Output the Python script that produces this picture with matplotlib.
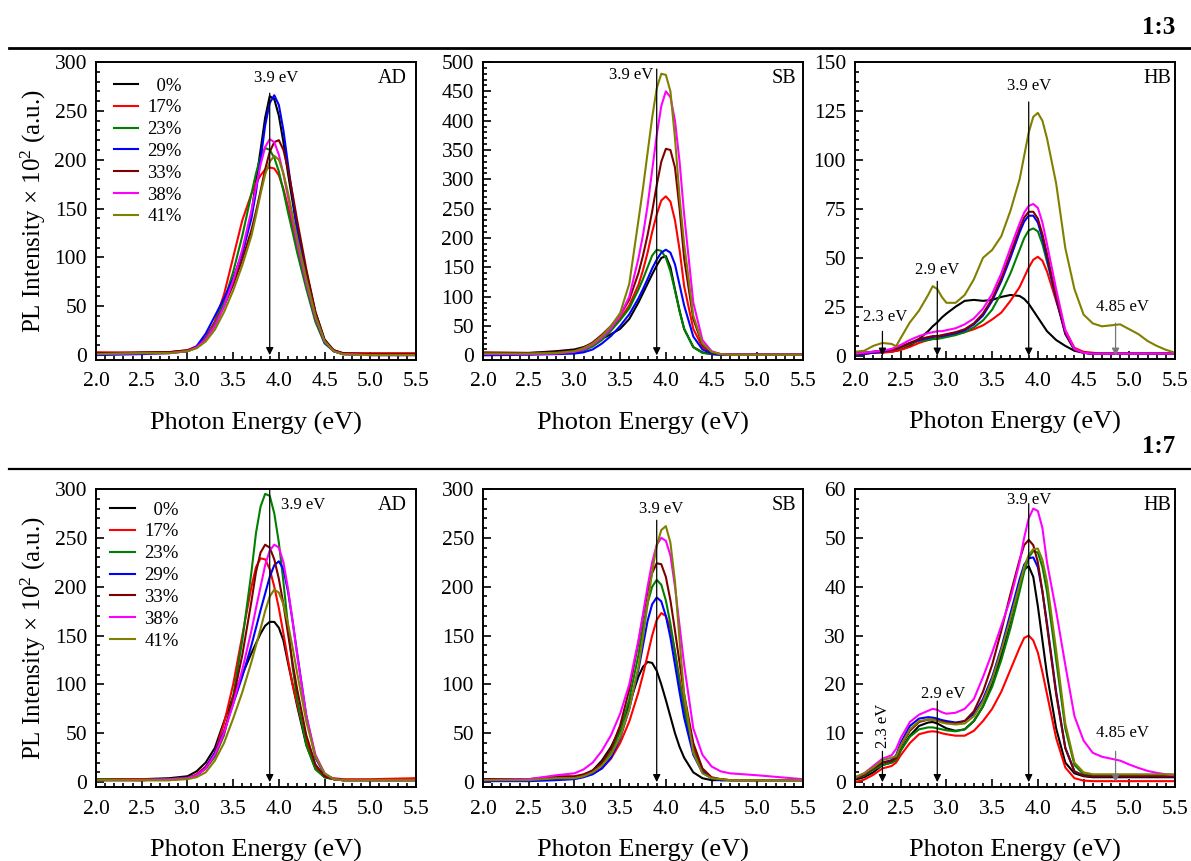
import matplotlib
matplotlib.use("Agg")
import matplotlib.pyplot as plt
from matplotlib.ticker import MultipleLocator, AutoMinorLocator
from matplotlib.lines import Line2D

plt.rcParams['font.family'] = ['Liberation Serif', 'DejaVu Serif']
plt.rcParams['mathtext.fontset'] = 'custom'
plt.rcParams['mathtext.rm'] = 'Liberation Serif'
plt.rcParams['mathtext.it'] = 'Liberation Serif:italic'

# ---------------- data ----------------
labels = ["  0%", "17%", "23%", "29%", "33%", "38%", "41%"]
colors = ["#000000", "#ff0000", "#008000", "#0000ff", "#800000", "#ff00ff", "#808000"]

# energy grid for AD / SB panels
x_main = [2.0, 2.5, 2.8, 3.0, 3.1, 3.2, 3.3, 3.4, 3.5, 3.6, 3.7, 3.75, 3.8, 3.85,
          3.9, 3.95, 4.0, 4.05, 4.1, 4.15, 4.2, 4.3, 4.4, 4.5, 4.6, 4.7, 5.0, 5.5]
# energy grid for HB panels
x_hb = [2.0, 2.1, 2.2, 2.3, 2.4, 2.45, 2.5, 2.6, 2.7, 2.8, 2.85, 2.9, 2.95, 3.0,
        3.1, 3.2, 3.3, 3.4, 3.5, 3.6, 3.7, 3.8, 3.85, 3.9, 3.95, 4.0, 4.05, 4.1,
        4.2, 4.3, 4.4, 4.5, 4.6, 4.7, 4.8, 4.9, 5.0, 5.1, 5.2, 5.3, 5.4, 5.5]

# 1:3 AD
ad13_00 = [2,2,3,4,8,18,34,56,78,105,145,178,210,243,265,262,245,218,186,157,128,85,44,16,5,2,1,1]
ad13_17 = [3,2,3,5,9,18,34,62,100,138,165,176,184,190,192,191,184,170,152,133,112,72,36,13,4,2,2,2]
ad13_23 = [2,2,3,4,8,17,32,55,85,122,165,186,203,212,210,202,188,168,146,126,105,68,34,12,4,1,1,1]
ad13_29 = [0,1,2,4,9,22,40,58,78,104,140,167,200,235,258,266,256,230,195,162,128,78,38,13,4,1,0,0]
ad13_33 = [2,3,3,5,8,16,30,50,72,98,128,147,168,190,208,218,220,210,190,165,138,88,44,15,5,2,1,1]
ad13_38 = [1,2,2,4,8,16,30,50,76,108,148,172,195,213,221,218,205,185,162,138,115,74,38,14,4,1,0,0]
ad13_41 = [1,2,2,4,7,14,26,44,66,92,122,143,165,185,198,204,200,186,166,143,120,78,40,14,4,1,0,0]

# 1:3 SB
sb13_00 = [4,4,7,10,14,20,28,36,45,62,90,106,122,138,153,166,169,150,112,76,45,14,5,2,1,1,1,1]
sb13_17 = [3,3,4,6,12,20,32,45,62,85,120,145,175,210,240,264,271,262,230,180,118,45,14,4,2,1,1,1]
sb13_23 = [2,2,3,5,8,15,26,42,60,80,112,130,150,170,180,178,166,143,110,75,45,14,4,2,1,1,1,1]
sb13_29 = [0,1,2,3,5,10,20,33,50,70,97,113,130,148,163,175,180,175,155,120,85,32,10,3,1,1,1,1]
sb13_33 = [5,4,5,8,13,22,35,50,68,95,140,170,205,245,290,330,352,350,320,250,165,62,18,5,2,1,1,1]
sb13_38 = [2,2,3,6,10,18,30,46,68,100,165,205,255,315,375,425,450,440,400,330,240,90,26,7,2,1,1,1]
sb13_41 = [3,3,4,7,12,20,33,50,72,122,230,285,345,405,455,480,478,450,370,270,190,68,20,6,2,1,1,1]

# 1:3 HB
hb13_00 = [1,1,1.5,2,2,2.5,3,5,8.5,12.5,15,17,19.5,21.5,25,28,28.5,28,28.5,30,31,30.5,29,26.5,23,
           19.5,16,12.5,8,5,2.5,1.5,1,1,1,1,1,1,1,1,1,1]
hb13_17 = [1,1,1.5,1.5,2,2.5,3,4.5,6.5,8,8.5,9,9.5,10,11,12,13.5,15.5,18.5,22,28,35,40,45,49,
           50.5,48.5,43,28,13,4,2,1.5,1,1,1,1,1,1,1,1,1]
hb13_23 = [1,1.5,2,2.5,3,3.5,4,6,7.5,8,8.5,8.5,9,9.5,10.5,12,14.5,18,23.5,32,42,54,60,64,65,
           63.5,57,48,30,12,3.5,1.5,1,1,1,1,1,1,1,1,1,1]
hb13_29 = [1,1,1.5,2,3,3.5,4.5,6.5,8,9,9.5,10,10,10.5,11.5,13,16,20.5,28,38,50,63,68.5,71.5,71.5,
           68,60,50,29,11,3,1.5,1,1,1,1,1,1,1,1,1,1]
hb13_33 = [1,1.5,2,2.5,3,3.5,4.5,6.5,8.5,9.5,10,10,10.5,11,12,13.5,16.5,21.5,29,39.5,52,65,70.5,73.5,73.5,
           70,62,52,30,11.5,3,1.5,1,1,1,1,1,1,1,1,1,1]
hb13_38 = [1,1.5,2,2.5,3.5,4.5,5.5,8,10,11.5,12,12.5,12.5,13,14,16,19,24,31.5,42,55,67.5,73,76.5,77.5,
           75.5,68,57,34,13,3.5,1.5,1,1,1,1,1,1,1,1,1,1]
hb13_41 = [2,2.5,5,6.5,6,4.8,9,17,23,31,35.5,34,30,27,27,31,39,50,54,61,74,90,102,114,122,
           124,120,111,88,55,34,21,16.5,15,15.5,16,13.5,11,7.5,5,3,1.5]

# 1:7 AD
ad17_00 = [3,3,4,6,11,20,35,62,88,110,132,142,152,160,164,164,158,145,122,100,78,38,14,5,3,2,2,2]
ad17_17 = [3,3,3,4,8,16,30,60,100,150,200,220,229,228,218,200,178,152,125,100,80,42,16,6,4,3,3,4]
ad17_23 = [3,2,3,4,7,14,26,48,88,145,215,255,282,295,293,275,245,205,160,118,85,38,13,5,3,2,2,2]
ad17_29 = [2,2,3,4,7,15,30,52,80,108,140,158,176,193,210,222,226,218,195,165,132,68,25,8,3,2,2,2]
ad17_33 = [2,2,2,4,7,14,28,50,85,130,185,215,235,243,240,228,208,182,152,122,95,48,18,6,3,2,2,2]
ad17_38 = [2,2,3,4,7,14,28,50,80,115,155,178,200,222,237,243,240,225,198,165,130,68,28,9,3,2,2,2]
ad17_41 = [2,2,2,3,5,10,22,40,65,92,123,140,157,175,190,197,194,182,162,138,112,62,26,9,3,2,2,2]

# 1:7 SB
sb17_00 = [3,2,4,4,6,12,22,36,55,80,108,118,123,122,114,100,84,67,50,36,25,10,4,2,2,2,2,2]
sb17_17 = [2,2,4,4,6,9,14,24,40,62,92,110,130,150,166,173,170,157,133,105,78,35,12,4,3,2,2,2]
sb17_23 = [2,2,3,4,6,10,18,30,52,85,130,158,183,200,207,202,186,162,133,102,74,32,11,4,2,2,2,2]
sb17_29 = [1,1,2,3,5,8,14,25,45,75,115,140,165,182,189,185,170,148,120,92,66,28,10,4,2,2,2,2]
sb17_33 = [3,3,6,6,8,12,20,34,58,95,143,170,195,214,224,223,210,186,155,122,90,40,14,5,3,2,2,2]
sb17_38 = [2,3,7,9,13,20,32,48,70,100,145,172,200,225,243,250,247,232,200,160,120,55,28,16,11,9,7,3]
sb17_41 = [2,2,4,4,6,10,17,28,46,75,118,148,182,215,242,258,262,245,205,145,90,30,9,4,3,2,2,2]

# 1:7 HB
hb17_00 = [0.5,1,2,3.5,4,4.5,6.5,9.5,11.5,12.2,12.3,12,11.5,11,10.5,10.8,12.5,15.5,20,26,33,40.5,43.5,44.2,42,
           36,29,22,11,4,1.8,1.2,1,1,1,1,1,1,1,1,1,1]
hb17_17 = [0,0.5,1.5,2.8,3.3,4,5.5,8,9.8,10.3,10.4,10.3,10,9.8,9.5,9.5,10.5,12.5,15,18.5,23,27.5,29.5,30,29,
           26.5,22.5,18,9,3,0.8,0.3,0.2,0.2,0.2,0.2,0.2,0.2,0.2,0.2,0.2,0.2]
hb17_23 = [0.8,1.3,2.5,3.5,4,4.5,6.5,9.3,10.8,11.2,11.2,11,10.8,10.6,10.4,10.8,12.5,15.5,19.5,25,31.5,39,43,46,47.3,
           47,44,39,25,11,3.5,1.6,1.4,1.4,1.4,1.4,1.4,1.4,1.4,1.4,1.4,1.4]
hb17_29 = [1,1.5,2.8,4,4.5,5.5,8,11.5,13,13.3,13.2,13,12.7,12.5,12.2,12.5,14,17,21.5,27.5,34.5,41.5,44.5,45.8,46,
           44,39,32.5,18.5,7,2.2,1.3,1.2,1.2,1.2,1.2,1.2,1.2,1.2,1.2,1.2,1.2]
hb17_33 = [0.8,1.5,2.8,4,4.3,5,7.3,10.5,12.3,12.8,12.8,12.6,12.4,12.2,12,12.5,14.5,18.5,24,31,38.5,45.5,48.5,49.6,48.5,
           45,39,32,18,7,2.2,1.3,1.2,1.2,1.2,1.2,1.2,1.2,1.2,1.2,1.2,1.2]
hb17_38 = [0.9,1.8,3.3,4.8,5.5,6.8,9,12.3,13.8,14.6,15,14.8,14.3,14,14.2,15,17,21.5,26.5,32,37.5,45,50,54,56,
           55.5,52,45,35,24,13.5,8.5,6,5.2,4.8,4.4,3.6,2.9,2.3,1.9,1.6,1.4]
hb17_41 = [1,1.8,3,4.5,5,5.3,7.5,10.8,12.5,12.8,12.8,12.5,12.2,12,11.8,12,13.5,16.5,21,27,33.5,40.5,44,46.5,47.7,
           47.8,45.5,41,27,12,4,2,1.6,1.6,1.6,1.6,1.6,1.6,1.6,1.6,1.6,1.6]

# ---------------- figure ----------------
W, H = 1191, 861
fig = plt.figure(figsize=(W / 100, H / 100), dpi=100)

def box(l, t, r, b):
    return [l / W, 1 - b / H, (r - l) / W, (b - t) / H]

# panel: position, x, curves, ylim, ymajor, tag, tag_x, arrows, legend anchor
# arrows: (x, y_top, text, tx, ty, ha, color, rotation)
panels = [
    (box(96, 62, 416, 360), x_main, [ad13_00, ad13_17, ad13_23, ad13_29, ad13_33, ad13_38, ad13_41],
     (-5, 300), 50, "AD", 0.972,
     [(3.9, 268, "3.9 eV", 3.97, 284, "center", "k", 0)], (0.055, 0.948)),
    (box(483, 62, 803, 360), x_main, [sb13_00, sb13_17, sb13_23, sb13_29, sb13_33, sb13_38, sb13_41],
     (-8, 500), 50, "SB", 0.978,
     [(3.9, 488, "3.9 eV", 3.86, 478, "right", "k", 0)], None),
    (box(855, 62, 1175, 359), x_hb, [hb13_00, hb13_17, hb13_23, hb13_29, hb13_33, hb13_38, hb13_41],
     (-1.7, 150), 25, "HB", 0.99,
     [(2.3, 12.4, "2.3 eV", 2.33, 20, "center", "k", 0),
      (2.9, 38, "2.9 eV", 2.9, 44, "center", "k", 0),
      (3.9, 129.6, "3.9 eV", 3.9, 137.6, "center", "k", 0),
      (4.85, 16.6, "4.85 eV", 4.92, 25, "center", "#777777", 0)], None),
    (box(96, 489, 416, 787), x_main, [ad17_00, ad17_17, ad17_23, ad17_29, ad17_33, ad17_38, ad17_41],
     (-5, 300), 50, "AD", 0.972,
     [(3.9, 300, "3.9 eV", 4.27, 284, "center", "k", 0)], (0.045, 0.958)),
    (box(483, 489, 803, 787), x_main, [sb17_00, sb17_17, sb17_23, sb17_29, sb17_33, sb17_38, sb17_41],
     (-5, 300), 50, "SB", 0.978,
     [(3.9, 268, "3.9 eV", 3.945, 280, "center", "k", 0)], None),
    (box(855, 489, 1175, 787), x_hb, [hb17_00, hb17_17, hb17_23, hb17_29, hb17_33, hb17_38, hb17_41],
     (-1, 60), 10, "HB", 0.99,
     [(2.3, 6.3, "2.3 eV", 2.31, 11.5, "center", "k", 90),
      (2.9, 16.6, "2.9 eV", 2.96, 18, "center", "k", 0),
      (3.9, 57.0, "3.9 eV", 3.9, 57.8, "center", "k", 0),
      (4.85, 6.3, "4.85 eV", 4.92, 10.1, "center", "#777777", 0)], None),
]

for i, (pos, xs, curves, ylim, ystep, tag, tagx, arrows, leg) in enumerate(panels):
    ax = fig.add_axes(pos)
    for ys, c, lab in zip(curves, colors, labels):
        ax.plot(xs, ys, color=c, lw=1.5, label=lab)
    ax.set_xlim(2.0, 5.5)
    ax.set_ylim(*ylim)
    ax.xaxis.set_major_locator(MultipleLocator(0.5))
    ax.xaxis.set_minor_locator(AutoMinorLocator(5))
    ax.yaxis.set_major_locator(MultipleLocator(ystep))
    ax.yaxis.set_minor_locator(AutoMinorLocator(5))
    ax.tick_params(which='both', direction='in', top=False, right=False,
                   labelsize=15.5, width=1.2)
    ax.tick_params(which='major', length=6)
    ax.tick_params(which='minor', length=3)
    ax.tick_params(axis='x', which='major', pad=9)
    ax.tick_params(axis='y', which='major', pad=6.5)
    for s in ax.spines.values():
        s.set_linewidth(1.4)
    ax.set_xlabel("Photon Energy (eV)", fontsize=19)
    ax.xaxis.set_label_coords(0.5, -0.175)
    if i % 3 == 0:
        ax.set_ylabel(r"PL Intensity $\times$ 10$^2$ (a.u.)", fontsize=18)
        ax.yaxis.set_label_coords(-0.15, 0.5)
    ax.text(tagx, 0.943, tag, transform=ax.transAxes, ha='right', va='center', fontsize=14.5)
    for (xa, ytop, txt, tx, ty, ha, col, rot) in arrows:
        ax.annotate('', xy=(xa, 0), xytext=(xa, ytop),
                    arrowprops=dict(arrowstyle='-|>', color=col, lw=0.9,
                                    shrinkA=0, shrinkB=0, mutation_scale=11))
        ax.text(tx, ty, txt, ha=ha, va='center', fontsize=12, rotation=rot)
    if leg is not None:
        ax.legend(loc='upper left', bbox_to_anchor=leg, frameon=False, fontsize=13.5,
                  handlelength=1.3, handletextpad=0.5, labelspacing=0.25,
                  borderpad=0, borderaxespad=0)

fig.text(1175 / W, 1 - 28 / H, "1:3", ha='right', va='center', fontsize=18, weight='bold')
fig.text(1175 / W, 1 - 447 / H, "1:7", ha='right', va='center', fontsize=18, weight='bold')
fig.add_artist(Line2D([9 / W, 1], [1 - 48 / H] * 2, color='k', lw=2.0))
fig.add_artist(Line2D([9 / W, 1], [1 - 469 / H] * 2, color='k', lw=1.6))

fig.savefig("out.png", dpi=100)
